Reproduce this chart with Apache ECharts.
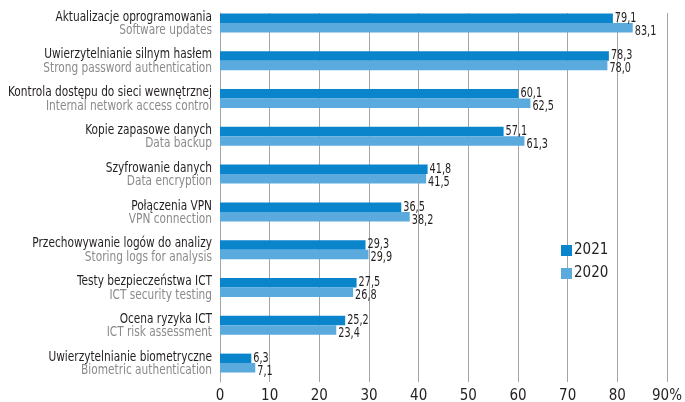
<!DOCTYPE html>
<html>
<head>
<meta charset="utf-8">
<script src="https://cdn.jsdelivr.net/npm/echarts@6/dist/echarts.min.js"></script>
<style>html,body{margin:0;padding:0;background:#fff}#c{width:685px;height:402px}</style>
</head>
<body>
<div id="c"></div>
<script>
const categoriesPL = ['Aktualizacje oprogramowania','Uwierzytelnianie silnym hasłem','Kontrola dostępu do sieci wewnętrznej','Kopie zapasowe danych','Szyfrowanie danych','Połączenia VPN','Przechowywanie logów do analizy','Testy bezpieczeństwa ICT','Ocena ryzyka ICT','Uwierzytelnianie biometryczne'];
const categoriesEN = ['Software updates','Strong password authentication','Internal network access control','Data backup','Data encryption','VPN connection','Storing logs for analysis','ICT security testing','ICT risk assessment','Biometric authentication'];
const values2021 = [79.1, 78.3, 60.1, 57.1, 41.8, 36.5, 29.3, 27.5, 25.2, 6.3];
const values2020 = [83.1, 78.0, 62.5, 61.3, 41.5, 38.2, 29.9, 26.8, 23.4, 7.1];
const xTicks = [0,10,20,30,40,50,60,70,80,90];

const FONT = '"DejaVu Sans Condensed","DejaVu Sans",sans-serif';
const DARK = '#231f20', GRAY = '#8a8a8a';
const C21 = '#0a85cc', C20 = '#5aaade';
const fmt = v => v.toFixed(1).replace('.', ',');

const chart = echarts.init(document.getElementById('c'));
chart.setOption({
  animation: false,
  textStyle: {fontFamily: FONT},
  grid: [
    {left: 220, right: 18, top: 4, height: 378, outerBoundsMode: 'none', containLabel: false},
    {left: 220, right: 18, top: 13, bottom: 20, outerBoundsMode: 'none', containLabel: false}
  ],
  legend: {
    orient: 'vertical', left: 561, top: 243, padding: 0, itemWidth: 11, itemHeight: 11, itemGap: 8,
    icon: 'rect',
    textStyle: {fontFamily: FONT, fontSize: 15, color: DARK, padding: [0,0,0,-3]},
    data: ['2021','2020']
  },
  xAxis: [
    {gridIndex: 0, type: 'value', min: 0, max: 90, show: false},
    {gridIndex: 1, type: 'value', min: 0, max: 90, interval: 10,
     axisLine: {show: false}, axisTick: {show: false},
     splitLine: {show: true, lineStyle: {color: '#a5a5a5', width: 1}},
     axisLabel: {margin: 7, color: DARK, fontSize: 15, fontFamily: FONT,
       formatter: v => xTicks.includes(v) ? (v === 90 ? '90%' : String(v)) : ''}}
  ],
  yAxis: [
    {gridIndex: 0, type: 'category', inverse: true, data: categoriesPL,
     axisLine: {show: false}, axisTick: {show: false}, axisLabel: {show: false}},
    {gridIndex: 1, type: 'category', data: [''],
     axisLine: {show: true, lineStyle: {color: '#a5a5a5', width: 1}},
     axisTick: {show: false}, axisLabel: {show: false}, splitLine: {show: false}}
  ],
  series: [
    {name: '2021', type: 'bar', xAxisIndex: 0, yAxisIndex: 0, data: values2021,
     barWidth: 9.5, barGap: '0%', itemStyle: {color: C21}},
    {name: '2020', type: 'bar', xAxisIndex: 0, yAxisIndex: 0, data: values2020,
     barWidth: 9.5, barGap: '0%', itemStyle: {color: C20}}
  ]
});

// Category labels (two lines, condensed) and value labels, positioned via the axes' own scales
const graphics = [];
const x0 = chart.convertToPixel({xAxisIndex: 0}, 0);
categoriesPL.forEach((pl, i) => {
  const yc = chart.convertToPixel({yAxisIndex: 0}, pl);
  graphics.push({type: 'text', x: x0 - 8, y: yc - 6, scaleX: 0.84, silent: true,
    style: {text: pl, fill: DARK, font: '14px ' + FONT, align: 'right', verticalAlign: 'middle'}});
  graphics.push({type: 'text', x: x0 - 8, y: yc + 7.5, scaleX: 0.84, silent: true,
    style: {text: categoriesEN[i], fill: GRAY, font: '14px ' + FONT, align: 'right', verticalAlign: 'middle'}});
  const xa = chart.convertToPixel({xAxisIndex: 0}, values2021[i]);
  const xb = chart.convertToPixel({xAxisIndex: 0}, values2020[i]);
  graphics.push({type: 'text', x: xa + 2, y: yc - 5, scaleX: 0.77, silent: true, z: 10,
    style: {text: fmt(values2021[i]), fill: DARK, font: '14px ' + FONT, align: 'left', verticalAlign: 'middle'}});
  graphics.push({type: 'text', x: xb + 2, y: yc + 8, scaleX: 0.77, silent: true, z: 10,
    style: {text: fmt(values2020[i]), fill: DARK, font: '14px ' + FONT, align: 'left', verticalAlign: 'middle'}});
});
chart.setOption({graphic: graphics});
</script>
</body>
</html>
